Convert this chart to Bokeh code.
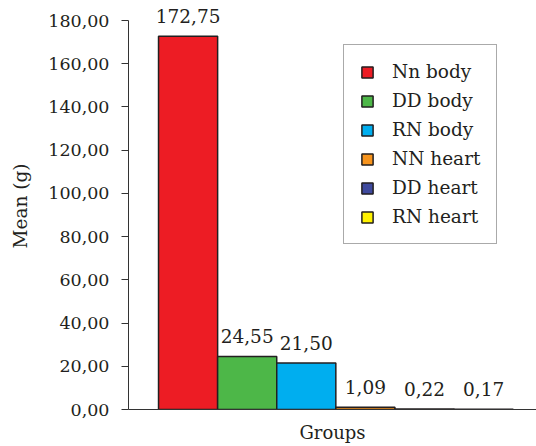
from bokeh.plotting import figure
from bokeh.models import ColumnDataSource, FixedTicker, Legend, LegendItem, Range1d
from bokeh.core.properties import value
from bokeh.embed import file_html
from bokeh.resources import INLINE

# Mean mass per group (g)
groups = ["Nn body", "DD body", "RN body", "NN heart", "DD heart", "RN heart"]
means = [172.75, 24.55, 21.50, 1.09, 0.22, 0.17]
colors = ["#ED1C24", "#4DB748", "#00AEEF", "#F7941D", "#3F4A9E", "#FFF200"]
y_ticks = [0, 20, 40, 60, 80, 100, 120, 140, 160, 180]

FONT = "DejaVu Serif"
INK = "#231F20"


def comma(v):
    return f"{v:.2f}".replace(".", ",")


positions = list(range(len(groups)))
source = ColumnDataSource(dict(
    x=positions,
    top=means,
    color=colors,
    label=[comma(v) for v in means],
))

# the value range runs a little past 180 so the top label has room;
# the axis itself stops at 180
p = figure(
    width=536, height=446,
    x_range=Range1d(-1.008, 5.895),
    y_range=Range1d(0, 188.33),
    output_backend="svg", toolbar_location=None,
    min_border_left=128, min_border_right=0,
    min_border_top=2, min_border_bottom=37,
)
p.outline_line_color = None
p.xgrid.visible = False
p.ygrid.visible = False
p.background_fill_color = "white"
p.border_fill_color = "white"

bars = p.vbar(x="x", top="top", width=1.0, bottom=0, source=source,
              fill_color="color", line_color=INK, line_width=1.5)

p.text(x="x", y="top", text="label", source=source,
       text_align="center", text_baseline="alphabetic", y_offset=-20,
       text_font=value(FONT), text_font_size="18.5px", text_color=INK)

# y axis
yax = p.yaxis[0]
yax.bounds = (0, 180)
yax.ticker = FixedTicker(ticks=y_ticks)
yax.major_label_overrides = {t: comma(t) for t in y_ticks}
yax.minor_tick_line_color = None
yax.major_tick_in = 0
yax.major_tick_out = 7
yax.major_label_standoff = 12
yax.axis_line_color = "#333333"
yax.major_tick_line_color = "#333333"
yax.major_label_text_font = FONT
yax.major_label_text_font_size = "17.5px"
yax.major_label_text_color = INK
yax.axis_label = "Mean (g)"
yax.axis_label_text_font = FONT
yax.axis_label_text_font_size = "18.5px"
yax.axis_label_text_font_style = "normal"
yax.axis_label_text_color = INK
yax.axis_label_standoff = 14

# x axis
xax = p.xaxis[0]
xax.ticker = FixedTicker(ticks=[])
xax.minor_tick_line_color = None
xax.major_tick_line_color = None
xax.axis_line_color = "#333333"
xax.axis_label = "Groups"
xax.axis_label_text_font = FONT
xax.axis_label_text_font_size = "18px"
xax.axis_label_text_font_style = "normal"
xax.axis_label_text_color = INK
xax.axis_label_standoff = 12

legend = Legend(
    items=[LegendItem(label=g, renderers=[bars], index=i) for i, g in enumerate(groups)],
    location=(215, 165),
    margin=0, padding=16, spacing=8,
    glyph_width=14, glyph_height=14, label_height=20,
    label_standoff=18,
    label_text_font=FONT, label_text_font_size="18.5px", label_text_color=INK,
    border_line_color="#555555", border_line_width=1,
    background_fill_color="white", background_fill_alpha=1.0,
)
p.add_layout(legend, "center")

open("out.html", "w").write(file_html(p, INLINE))
